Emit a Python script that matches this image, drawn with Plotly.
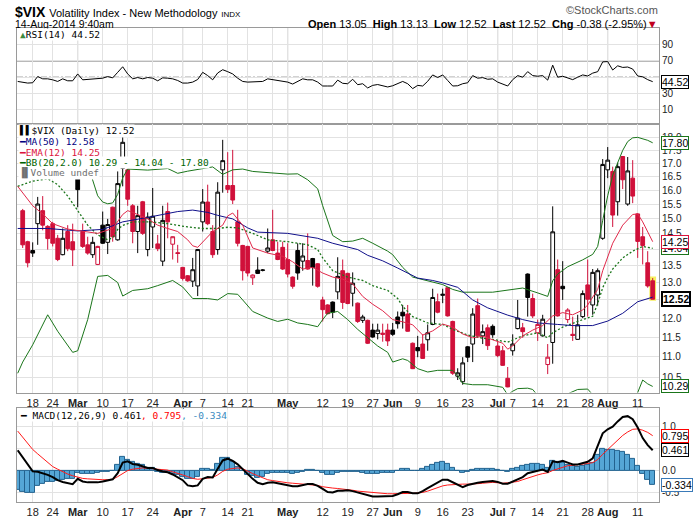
import math

import pandas as pd
import plotly.graph_objects as go
from plotly.subplots import make_subplots

# trading days on the chart (Feb 12 is only the left edge)
holidays = ["2014-02-17", "2014-04-18", "2014-05-26", "2014-07-04"]
dates = [d.strftime("%Y-%m-%d") for d in pd.bdate_range("2014-02-12", "2014-08-14")
         if d.strftime("%Y-%m-%d") not in holidays]
candle_dates = dates[1:]

# daily bars, Feb 13 .. Aug 14
opens = [15.28, 14.25, 13.97, 14.84, 15.28, 14.75, 14.84, 14.36, 13.84, 14.58,
         14.25, 16.42, 14.58, 14.15, 13.84, 13.54, 14.79, 14.23, 15.40, 14.31,
         16.81, 16.75, 15.45, 14.58, 15.59, 14.00, 14.73, 14.18, 13.64, 15.25,
         14.17, 13.90, 13.45, 13.20, 13.04, 12.90, 14.90, 15.58, 14.58, 14.00,
         16.75, 16.17, 16.17, 14.90, 14.13, 14.10, 13.14, 13.37, 13.36, 13.95,
         14.31, 13.89, 14.07, 13.69, 13.16, 13.97, 13.64, 13.66, 13.72, 13.56,
         12.50, 12.36, 12.44, 12.73, 13.35, 13.27, 12.69, 12.41, 11.94, 11.94,
         11.68, 11.59, 11.60, 11.68, 11.68, 12.03, 12.16, 12.11, 11.34, 11.23,
         11.32, 11.43, 11.83, 12.45, 12.63, 12.85, 11.91, 10.53, 10.40, 11.25,
         11.32, 12.34, 11.53, 11.74, 11.78, 11.27, 11.15, 10.48, 11.15, 11.72,
         11.74, 13.25, 12.54, 11.61, 11.53, 10.81, 11.36, 13.38, 12.89, 11.96,
         11.57, 11.44, 12.04, 12.93, 12.36, 12.64, 14.36, 16.75, 16.69, 15.59,
         17.26, 15.51, 16.44, 15.17, 14.41, 13.59, 13.05]
highs = [15.34, 14.28, 14.23, 15.76, 15.79, 14.79, 14.90, 14.47, 14.68, 14.79,
         14.84, 16.45, 14.84, 14.41, 14.41, 14.12, 15.25, 15.00, 15.42, 16.69,
         18.05, 16.78, 15.51, 15.45, 15.62, 15.22, 16.08, 14.47, 15.45, 15.56,
         14.42, 14.15, 13.46, 13.22, 13.74, 14.02, 16.04, 16.20, 14.79, 16.29,
         17.92, 17.43, 17.52, 15.31, 14.15, 14.12, 13.24, 13.76, 13.40, 14.68,
         15.31, 14.25, 14.25, 14.20, 13.18, 14.20, 14.20, 14.52, 13.74, 13.58,
         12.59, 12.38, 12.46, 13.76, 13.69, 13.29, 13.30, 12.43, 12.09, 11.96,
         11.85, 11.85, 11.85, 11.85, 11.87, 12.18, 12.36, 12.36, 11.36, 11.53,
         11.57, 11.83, 12.82, 12.68, 12.82, 12.86, 11.93, 10.72, 10.99, 11.27,
         12.27, 12.54, 11.83, 11.83, 11.83, 11.40, 11.27, 10.75, 11.57, 12.50,
         11.87, 13.27, 12.68, 11.96, 12.09, 11.32, 15.43, 13.69, 13.64, 12.27,
         12.04, 12.09, 12.77, 13.69, 13.40, 13.42, 17.16, 17.63, 16.87, 17.02,
         17.28, 17.24, 17.12, 15.19, 14.73, 13.95, 13.13]
lows = [14.05, 13.45, 13.77, 14.15, 14.62, 14.00, 14.10, 13.64, 13.82, 13.95,
        13.49, 15.40, 14.05, 13.84, 13.74, 13.52, 14.18, 13.86, 14.25, 14.28,
        16.14, 15.45, 14.20, 13.89, 14.47, 13.79, 14.05, 13.95, 13.49, 14.36,
        13.69, 13.59, 13.06, 13.02, 12.87, 12.61, 14.58, 14.79, 13.74, 13.84,
        15.91, 15.90, 15.51, 14.10, 13.06, 13.18, 12.93, 13.25, 13.33, 13.89,
        13.95, 13.67, 13.37, 13.15, 12.82, 13.08, 13.35, 13.38, 12.91, 12.85,
        11.91, 12.10, 12.00, 12.52, 12.25, 12.38, 12.32, 11.87, 11.87, 11.32,
        11.48, 11.44, 11.38, 11.27, 11.53, 11.72, 11.72, 11.64, 10.70, 10.99,
        10.95, 11.15, 11.81, 12.13, 12.41, 12.04, 10.56, 10.44, 10.33, 10.87,
        10.87, 11.48, 11.32, 11.17, 11.48, 10.99, 10.78, 10.27, 11.03, 11.70,
        11.48, 12.04, 12.00, 11.40, 11.51, 10.58, 10.83, 12.04, 12.50, 11.87,
        11.40, 11.43, 12.00, 12.04, 12.09, 12.34, 14.31, 16.44, 14.73, 15.11,
        16.04, 15.45, 15.54, 13.74, 13.54, 12.85, 12.52]
closes = [14.15, 13.59, 13.89, 15.51, 14.79, 14.35, 14.20, 13.69, 14.36, 14.03,
          13.99, 16.02, 14.10, 13.89, 14.23, 14.10, 14.20, 14.81, 14.41, 16.24,
          17.82, 15.68, 14.58, 15.11, 14.52, 15.06, 15.09, 14.03, 14.95, 14.90,
          14.41, 13.88, 13.12, 13.05, 13.38, 14.00, 15.58, 14.84, 13.84, 15.93,
          17.10, 16.03, 15.65, 14.20, 13.35, 13.28, 13.22, 13.27, 13.37, 14.05,
          13.97, 13.69, 13.40, 13.25, 12.89, 13.28, 13.80, 13.40, 13.45, 12.89,
          12.23, 12.12, 12.16, 13.18, 12.43, 12.40, 12.98, 11.91, 12.03, 11.34,
          11.50, 11.68, 11.57, 11.40, 11.57, 11.85, 12.06, 11.65, 10.71, 11.15,
          10.96, 11.61, 12.57, 12.16, 12.66, 12.06, 10.60, 10.61, 10.85, 10.99,
          12.11, 11.53, 11.64, 11.28, 11.56, 11.03, 10.79, 10.28, 11.32, 12.00,
          11.64, 12.57, 12.06, 11.83, 11.97, 10.99, 14.57, 12.06, 12.82, 12.22,
          11.54, 11.82, 12.68, 12.52, 13.30, 13.35, 16.95, 17.12, 15.13, 16.87,
          16.38, 16.71, 15.79, 14.26, 14.13, 12.90, 12.52]

# overlays, read at selected days ("MM-DD" of 2014)
ma50_days = ["02-12", "02-21", "03-03", "03-10", "03-12", "03-14", "03-21", "03-26", "03-31", "04-03",
             "04-08", "04-10", "04-15", "04-21", "04-23", "05-01", "05-09", "05-14", "05-21", "05-23",
             "05-29", "06-03", "06-05", "06-09", "06-12", "06-16", "06-19", "06-24", "06-27", "07-03",
             "07-09", "07-14", "07-18", "07-23", "07-29", "08-01", "08-06", "08-11", "08-14"]
ma50 = [14.68, 14.68, 14.60, 14.65, 14.77, 14.90, 15.05, 15.15, 15.25, 15.30,
        15.22, 15.12, 15.00, 14.70, 14.56, 14.52, 14.36, 14.20, 14.00, 13.82,
        13.65, 13.43, 13.28, 13.13, 13.06, 12.99, 12.86, 12.50, 12.28, 12.08,
        11.96, 11.87, 11.83, 11.80, 11.80, 11.92, 12.13, 12.45, 12.58]

ema12_days = ["02-12", "02-18", "02-20", "02-24", "02-27", "03-04", "03-07", "03-12", "03-14", "03-17",
              "03-18", "03-21", "03-25", "03-27", "03-31", "04-02", "04-03", "04-04", "04-07", "04-09",
              "04-11", "04-14", "04-15", "04-17", "04-22", "04-25", "04-30", "05-02", "05-06", "05-08",
              "05-12", "05-14", "05-16", "05-20", "05-22", "05-27", "05-29", "06-02", "06-04", "06-06",
              "06-10", "06-12", "06-16", "06-18", "06-20", "06-24", "06-26", "06-30", "07-02", "07-03",
              "07-07", "07-09", "07-11", "07-15", "07-17", "07-21", "07-23", "07-25", "07-28", "07-30",
              "07-31", "08-04", "08-05", "08-06", "08-08", "08-11", "08-12", "08-14"]
ema12 = [16.14, 15.45, 15.17, 14.84, 14.66, 14.58, 14.52, 14.68, 15.15, 15.28,
         15.22, 15.00, 14.79, 14.68, 14.58, 14.31, 14.12, 14.07, 14.25, 14.58,
         14.79, 15.10, 15.20, 14.79, 14.05, 13.89, 13.79, 13.62, 13.40, 13.45,
         13.28, 13.16, 13.10, 12.96, 12.60, 12.38, 12.20, 11.96, 11.90, 11.82,
         11.55, 11.66, 11.84, 11.76, 11.58, 11.48, 11.52, 11.42, 11.34, 11.19,
         11.27, 11.53, 11.68, 11.80, 12.06, 12.15, 12.09, 12.22, 12.36, 12.80,
         13.35, 14.20, 14.50, 14.79, 15.15, 15.17, 14.90, 14.25]

bb_up_days = ["03-05", "03-06", "03-07", "03-10", "03-11", "03-12", "03-13", "03-14", "03-17", "03-21",
              "03-27", "03-31", "04-02", "04-09", "04-11", "04-15", "04-17", "04-22", "04-28", "05-01",
              "05-05", "05-07", "05-09", "05-12", "05-14", "05-16", "05-20", "05-22", "05-27", "05-30",
              "06-02", "06-04", "06-06", "06-11", "06-16", "06-18", "06-20", "06-30", "07-03", "07-09",
              "07-14", "07-16", "07-17", "07-18", "07-22", "07-25", "07-29", "07-30", "07-31", "08-01",
              "08-04", "08-05", "08-06", "08-07", "08-08", "08-11", "08-13", "08-14"]
bb_up = [16.95, 16.35, 15.80, 15.58, 15.52, 15.55, 15.85, 16.45, 16.78, 16.74,
         16.80, 16.62, 16.70, 16.86, 16.58, 16.75, 16.78, 16.69, 16.63, 16.59,
         16.60, 16.38, 16.05, 15.45, 14.45, 14.25, 14.27, 14.36, 14.20, 13.95,
         13.84, 13.45, 13.16, 13.06, 12.94, 12.80, 12.72, 12.72, 12.77, 12.84,
         12.70, 12.60, 13.05, 13.25, 13.47, 13.68, 13.85, 14.10, 14.95, 15.80,
         16.55, 17.05, 17.50, 17.85, 18.00, 18.02, 17.90, 17.80]

bb_mid_days = ["02-12", "02-18", "02-21", "02-25", "02-27", "03-03", "03-05", "03-07", "03-11", "03-12",
               "03-13", "03-14", "03-18", "03-24", "03-27", "04-02", "04-07", "04-10", "04-14", "04-16",
               "04-22", "04-25", "05-01", "05-07", "05-09", "05-12", "05-14", "05-19", "05-22", "05-27",
               "05-30", "06-03", "06-04", "06-06", "06-11", "06-16", "06-18", "06-23", "06-26", "06-30",
               "07-03", "07-09", "07-14", "07-16", "07-17", "07-21", "07-23", "07-25", "07-29", "07-30",
               "07-31", "08-01", "08-04", "08-06", "08-08", "08-12", "08-14"]
bb_mid = [16.14, 16.33, 16.42, 16.20, 15.79, 15.30, 14.79, 14.47, 14.31, 14.38,
          14.65, 14.78, 14.90, 14.90, 14.84, 14.73, 14.68, 14.68, 14.72, 14.70,
          14.52, 14.31, 14.25, 14.15, 14.00, 13.74, 13.35, 13.16, 13.06, 12.91,
          12.77, 12.54, 12.32, 12.04, 11.87, 11.83, 11.70, 11.55, 11.47, 11.44,
          11.37, 11.53, 11.61, 11.48, 11.61, 11.76, 11.87, 11.96, 12.05, 12.40,
          12.85, 13.15, 13.40, 13.74, 13.95, 14.10, 14.04]

bb_low_days = ["02-12", "02-13", "02-18", "02-21", "02-25", "02-28", "03-03", "03-05", "03-07", "03-11",
               "03-13", "03-14", "03-18", "03-21", "03-25", "03-28", "04-01", "04-03", "04-08", "04-10",
               "04-14", "04-16", "04-17", "04-22", "04-25", "04-29", "05-01", "05-05", "05-07", "05-09",
               "05-12", "05-13", "05-15", "05-19", "05-21", "05-23", "05-28", "05-30", "06-02", "06-04",
               "06-05", "06-09", "06-11", "06-13", "06-18", "06-19", "06-20", "06-24", "06-27", "07-02",
               "07-03", "07-07", "07-08", "07-10", "07-11", "07-14", "07-16", "07-18", "07-22", "07-24",
               "07-28", "07-29", "07-31", "08-05", "08-07", "08-08", "08-11", "08-12", "08-13", "08-14"]
bb_low = [10.60, 10.87, 11.30, 12.09, 11.65, 11.11, 11.15, 11.96, 13.18, 13.21,
          13.00, 12.61, 12.77, 12.82, 12.91, 13.06, 12.87, 12.54, 12.54, 12.50,
          12.68, 12.66, 12.50, 12.18, 12.00, 11.91, 11.97, 11.87, 11.83, 11.77,
          11.96, 12.13, 12.18, 11.96, 11.70, 11.48, 11.27, 11.11, 10.87, 10.95,
          10.91, 10.71, 10.63, 10.67, 10.67, 10.55, 10.36, 10.33, 10.33, 10.27,
          10.10, 10.18, 10.24, 10.25, 10.22, 10.08, 9.90, 10.05, 10.12, 10.22,
          10.23, 10.10, 9.60, 9.20, 9.50, 9.95, 10.15, 10.44, 10.35, 10.29]

# lower panels, one value per day from Feb 12
rsi = [44.8, 44.0, 42.8, 43.2, 50.8, 48.0, 48.0, 46.8, 44.8, 48.0,
       45.6, 45.6, 54.0, 46.8, 47.2, 47.2, 47.6, 48.8, 50.8, 49.2,
       56.0, 62.8, 54.0, 48.0, 49.6, 48.0, 49.6, 48.8, 45.6, 49.2,
       48.8, 48.0, 46.0, 42.8, 42.8, 44.0, 47.2, 56.0, 52.0, 46.8,
       55.2, 59.2, 56.8, 54.0, 48.8, 44.8, 44.0, 44.0, 44.0, 44.8,
       48.0, 47.2, 46.0, 44.8, 44.0, 41.6, 44.8, 48.0, 46.8, 46.8,
       44.0, 39.2, 39.2, 39.2, 46.4, 42.5, 42.0, 47.5, 40.8, 42.0,
       36.8, 40.0, 41.0, 39.2, 38.0, 39.5, 42.5, 44.8, 42.0, 36.0,
       40.0, 39.2, 45.0, 52.8, 49.6, 52.8, 46.0, 39.2, 39.5, 42.0,
       43.2, 52.0, 48.8, 49.5, 47.5, 48.0, 44.0, 42.0, 39.2, 47.0,
       52.0, 50.0, 56.8, 52.0, 51.2, 52.0, 46.4, 64.8, 50.0, 51.2,
       49.0, 47.0, 50.0, 52.8, 51.5, 55.0, 56.8, 68.8, 69.2, 58.8,
       64.0, 62.0, 62.5, 60.0, 51.5, 50.5, 47.0, 44.52]
macd = [0.46, 0.30, 0.13, -0.02, -0.03, -0.06, -0.10, -0.15, -0.22, -0.26,
        -0.28, -0.31, -0.19, -0.25, -0.27, -0.27, -0.27, -0.25, -0.22, -0.20,
        -0.06, 0.18, 0.21, 0.15, 0.13, 0.10, 0.06, 0.06, 0.01, -0.02,
        -0.04, -0.09, -0.15, -0.22, -0.34, -0.36, -0.34, -0.19, -0.15, -0.16,
        0.04, 0.23, 0.27, 0.22, 0.14, 0.03, -0.10, -0.19, -0.28, -0.31,
        -0.28, -0.27, -0.29, -0.31, -0.34, -0.36, -0.36, -0.33, -0.31, -0.31,
        -0.35, -0.42, -0.49, -0.50, -0.46, -0.46, -0.45, -0.47, -0.50, -0.54,
        -0.57, -0.59, -0.59, -0.59, -0.58, -0.58, -0.54, -0.49, -0.49, -0.52,
        -0.52, -0.47, -0.40, -0.33, -0.26, -0.21, -0.21, -0.27, -0.32, -0.38,
        -0.33, -0.30, -0.28, -0.26, -0.25, -0.24, -0.26, -0.30, -0.30, -0.25,
        -0.20, -0.15, -0.06, -0.03, 0.00, 0.02, -0.03, 0.21, 0.19, 0.22,
        0.18, 0.14, 0.14, 0.17, 0.20, 0.28, 0.55, 0.85, 0.94, 1.00,
        1.12, 1.22, 1.24, 1.17, 0.98, 0.74, 0.58, 0.461]
signal = [0.90, 0.76, 0.62, 0.48, 0.38, 0.28, 0.17, 0.09, 0.03, -0.03,
          -0.08, -0.12, -0.15, -0.18, -0.19, -0.20, -0.21, -0.21, -0.21, -0.20,
          -0.14, -0.06, 0.00, 0.03, 0.05, 0.06, 0.05, 0.04, 0.03, 0.03,
          0.01, -0.03, -0.06, -0.10, -0.14, -0.18, -0.20, -0.19, -0.18, -0.16,
          -0.10, -0.02, 0.03, 0.05, 0.06, 0.04, -0.02, -0.07, -0.12, -0.17,
          -0.21, -0.23, -0.25, -0.27, -0.28, -0.29, -0.30, -0.31, -0.32, -0.33,
          -0.34, -0.37, -0.39, -0.40, -0.41, -0.42, -0.44, -0.45, -0.47, -0.48,
          -0.50, -0.51, -0.52, -0.53, -0.53, -0.53, -0.53, -0.52, -0.52, -0.52,
          -0.51, -0.50, -0.47, -0.43, -0.39, -0.35, -0.33, -0.32, -0.31, -0.31,
          -0.31, -0.31, -0.30, -0.29, -0.28, -0.27, -0.28, -0.29, -0.28, -0.27,
          -0.25, -0.21, -0.17, -0.13, -0.10, -0.07, -0.05, 0.00, 0.04, 0.08,
          0.11, 0.12, 0.13, 0.14, 0.16, 0.18, 0.25, 0.37, 0.48, 0.58,
          0.69, 0.80, 0.88, 0.94, 0.95, 0.92, 0.87, 0.795]
hist = [-0.44, -0.48, -0.52, -0.52, -0.36, -0.31, -0.27, -0.25, -0.24, -0.22,
        -0.20, -0.18, -0.06, -0.08, -0.08, -0.07, -0.06, -0.04, -0.02, 0.00,
        0.13, 0.30, 0.25, 0.19, 0.16, 0.12, 0.07, 0.05, -0.02, -0.05,
        -0.05, -0.07, -0.10, -0.14, -0.20, -0.19, -0.15, 0.03, 0.04, 0.01,
        0.16, 0.28, 0.28, 0.20, 0.09, -0.01, -0.09, -0.13, -0.17, -0.15,
        -0.08, -0.05, -0.05, -0.05, -0.06, -0.07, -0.06, -0.02, 0.01, 0.02,
        -0.01, -0.05, -0.10, -0.10, -0.05, -0.04, -0.02, -0.02, -0.03, -0.06,
        -0.07, -0.08, -0.07, -0.06, -0.05, -0.05, -0.01, 0.04, 0.04, 0.00,
        -0.01, 0.03, 0.08, 0.14, 0.18, 0.19, 0.16, 0.05, -0.01, -0.06,
        -0.02, 0.01, 0.03, 0.04, 0.04, 0.04, 0.02, -0.01, -0.02, 0.03,
        0.06, 0.10, 0.14, 0.15, 0.15, 0.14, 0.06, 0.21, 0.20, 0.18,
        0.12, 0.10, 0.09, 0.10, 0.12, 0.17, 0.35, 0.50, 0.48, 0.46,
        0.44, 0.42, 0.36, 0.26, 0.10, -0.08, -0.22, -0.334]

# date axis
tick_days = ["02-18", "02-24", "03-03", "03-10", "03-17", "03-24", "04-01", "04-07", "04-14", "04-21",
             "04-28", "05-01", "05-12", "05-19", "05-27", "06-02", "06-09", "06-16", "06-23", "07-01",
             "07-07", "07-14", "07-21", "07-28", "08-01", "08-11"]
tick_text = ["18", "24", "Mar", "10", "17", "24", "Apr", "7", "14", "21",
             "", "May", "12", "19", "27", "Jun", "9", "16", "23", "Jul",
             "7", "14", "21", "28", "Aug", "11"]
month_days = ["03-03", "04-01", "05-01", "06-02", "07-01", "08-01"]

# value axes (labels sitting under the last-value boxes are left blank, as in the original)
rsi_ticks = [10, 30, 50, 70, 90]
rsi_tick_text = ["10", "30", "", "70", "90"]
price_ticks = [10.5, 11.0, 11.5, 12.0, 12.5, 13.0, 13.5, 14.0, 14.5, 15.0, 15.5, 16.0, 16.5, 17.0, 17.5, 18.0]
price_tick_text = ["10.5", "11.0", "11.5", "12.0", "", "13.0", "13.5", "", "14.5", "15.0",
                   "15.5", "16.0", "16.5", "17.0", "17.5", "18.0"]
macd_ticks = [-0.5, 0.0, 0.5, 1.0]
macd_tick_text = ["-0.5", "0.0", "", "1.0"]


def on(days):
    return ["2014-" + d for d in days]


W, H = 700, 530
ML, MR, MT, MB = 17, 41, 28, 17
GRID = "#e2e2e2"
FRAME = "#9a9a9a"
SANS = "Liberation Sans, Arial, sans-serif"
MONO = "DejaVu Sans Mono, monospace"
RED = "#d0103a"
GREEN = "#1a751a"


def fx(px):
    return (px - ML) / (W - ML - MR)


def fy(py):
    return (H - MB - py) / (H - MT - MB)


fig = make_subplots(rows=3, cols=1, shared_xaxes=True, vertical_spacing=0)

# RSI
fig.add_trace(go.Scatter(x=dates, y=rsi, mode="lines", line=dict(color="black", width=1),
                         hoverinfo="skip"), row=1, col=1)

# highlight behind the latest bar
fig.add_trace(go.Candlestick(x=[candle_dates[-1]], open=[lows[-1]], high=[highs[-1]],
                             low=[lows[-1]], close=[highs[-1]], whiskerwidth=0,
                             increasing=dict(line=dict(color="#f7f060", width=3), fillcolor="#f7f060"),
                             decreasing=dict(line=dict(color="#f7f060", width=3), fillcolor="#f7f060"),
                             hoverinfo="skip"), row=2, col=1)

# black bars close up on the day, red bars close down; hollow when close > open
up_day = [k > 0 and closes[k] >= closes[k - 1] for k in range(len(closes))]
for flag, color in ((True, "black"), (False, RED)):
    idx = [k for k in range(len(closes)) if up_day[k] == flag]
    fig.add_trace(go.Candlestick(
        x=[candle_dates[k] for k in idx],
        open=[opens[k] for k in idx], high=[highs[k] for k in idx],
        low=[lows[k] for k in idx], close=[closes[k] for k in idx],
        whiskerwidth=0,
        increasing=dict(line=dict(color=color, width=1), fillcolor="white"),
        decreasing=dict(line=dict(color=color, width=1), fillcolor=color),
        hoverinfo="skip"), row=2, col=1)

overlays = [
    (bb_up_days, bb_up, dict(color=GREEN, width=1)),
    (bb_low_days, bb_low, dict(color=GREEN, width=1)),
    (bb_mid_days, bb_mid, dict(color=GREEN, width=1.3, dash="2px,2px")),
    (ma50_days, ma50, dict(color="#10108a", width=1)),
    (ema12_days, ema12, dict(color="#e0284a", width=1)),
]
for days, vals, line in overlays:
    fig.add_trace(go.Scatter(x=on(days), y=vals, mode="lines", line=line, hoverinfo="skip"),
                  row=2, col=1)

# MACD
fig.add_trace(go.Bar(x=dates, y=hist, marker=dict(color="#55a6d6", line=dict(color="#23628f", width=1)),
                     hoverinfo="skip"), row=3, col=1)
fig.add_trace(go.Scatter(x=dates, y=signal, mode="lines", line=dict(color="#ff1a1a", width=1),
                         hoverinfo="skip"), row=3, col=1)
fig.add_trace(go.Scatter(x=dates, y=macd, mode="lines", line=dict(color="black", width=2),
                         hoverinfo="skip"), row=3, col=1)

# axes
tickvals = on(tick_days)
ticktext = ["<b>%s</b>" % t if t.isalpha() else t for t in tick_text]
for name in ("xaxis", "xaxis2", "xaxis3"):
    fig.layout[name].update(
        type="category", categoryorder="array", categoryarray=dates,
        range=[-0.14, 128.26], tickmode="array", tickvals=tickvals, ticktext=ticktext,
        showgrid=True, gridcolor=GRID, gridwidth=1, showline=True, mirror=True,
        linecolor=FRAME, linewidth=1, ticks="", rangeslider=dict(visible=False),
        tickfont=dict(family=SANS, size=11, color="#222"))
fig.layout.xaxis.showticklabels = False
fig.layout.xaxis2.showticklabels = True
fig.layout.xaxis3.showticklabels = True

yaxis_common = dict(side="right", showgrid=True, gridcolor=GRID, zeroline=False, showline=True,
                    mirror=True, linecolor=FRAME, linewidth=1, ticks="", tickmode="array",
                    tickfont=dict(family=SANS, size=10, color="#222"))
fig.update_layout(
    yaxis=dict(domain=[fy(126.7), 1], range=[-8, 110.4], tickvals=rsi_ticks,
               ticktext=rsi_tick_text, **yaxis_common),
    yaxis2=dict(domain=[fy(401), fy(126.7)], type="log",
                range=[math.log10(10.15), math.log10(18.55)], tickvals=price_ticks,
                ticktext=price_tick_text, **yaxis_common),
    yaxis3=dict(domain=[0, fy(416.7)], range=[-0.718, 1.429], tickvals=macd_ticks,
                ticktext=macd_tick_text, **yaxis_common),
)

# RSI guide lines
fig.add_hline(y=70, row=1, col=1, line=dict(color="#555", width=1), layer="below")
fig.add_hline(y=30, row=1, col=1, line=dict(color="#555", width=1), layer="below")
fig.add_hline(y=50, row=1, col=1, line=dict(color="#666", width=1, dash="6px,2px,2px,2px"), layer="below")

# month separators
for r in (1, 2, 3):
    for d in on(month_days):
        fig.add_vline(x=d, row=r, col=1, line=dict(color="#b8b8b8", width=1), layer="below")

ann = []


def text(px, py, s, size=11, family=SANS, color="#000", anchor="left", bg=None):
    ann.append(dict(x=fx(px), y=fy(py), xref="paper", yref="paper", text=s, showarrow=False,
                    xanchor=anchor, yanchor="middle", font=dict(family=family, size=size, color=color),
                    bgcolor=bg, borderpad=0))


# header
text(14, 11.5, "<b>$VIX</b> <span style='font-size:11px'>Volatility Index - New Methodology</span>"
     " <span style='font-size:8px'>INDX</span>", size=14)
text(14, 24, "14-Aug-2014 9:40am", size=10.5)
text(659, 10, "\u00a9StockCharts.com", size=11, color="#555", anchor="right")
chg = closes[-1] - closes[-2]
text(659, 23.5, "<b>Open</b> %.2f\u00a0 <b>High</b> %.2f\u00a0 <b>Low</b> %.2f\u00a0 <b>Last</b> %.2f\u00a0"
     " <b>Chg</b> %.2f (%.2f%%)<span style='color:#c00020'>\u25bc</span>"
     % (opens[-1], highs[-1], lows[-1], closes[-1], chg, chg / closes[-2] * 100), size=11, anchor="right")

# panel legends
text(19, 35, "<span style='color:#3d8a3d'>\u25b2</span>RSI(14) %.2f" % rsi[-1], size=9.5, family=MONO, bg="white")
legend_rows = [
    (133.3, "#000", "\u258c\u258c", "$VIX (Daily) %.2f" % closes[-1]),
    (144.3, "#000080", "\u2501", "MA(50) %.2f" % ma50[-1]),
    (155.0, "#dc143c", "\u2501", "EMA(12) %.2f" % ema12[-1]),
    (166.0, "#006400", "\u2501", "BB(20,2.0) %.2f - %.2f - %.2f" % (bb_low[-1], bb_mid[-1], bb_up[-1])),
    (176.7, "#707070", "\u2590\u258c", "Volume undef"),
]
for py, col, icon, label in legend_rows:
    text(18, py, "%s%s" % (icon, label), size=9.5, family=MONO, color=col, bg="white")
text(19, 424.3, "\u2501 MACD(12,26,9) %.3f<span style='color:#ff0000'>, %.3f</span>"
     "<span style='color:#3a8ac0'>, %.3f</span>" % (macd[-1], signal[-1], hist[-1]),
     size=9.5, family=MONO, bg="white")


def value_box(v, yref, y, color, fmt="%.2f", bold=False, width=1):
    s = fmt % v
    ann.append(dict(x=fx(660.5), xref="paper", xanchor="left", y=y, yref=yref, yanchor="middle",
                    text="<b>%s</b>" % s if bold else s, showarrow=False, bgcolor="white",
                    bordercolor=color, borderwidth=width, borderpad=0,
                    font=dict(family=SANS, size=10.5, color="#000")))


value_box(rsi[-1], "y", rsi[-1], "#000")
value_box(bb_up[-1], "y2", math.log10(bb_up[-1]), GREEN)
value_box(bb_mid[-1], "y2", math.log10(bb_mid[-1]), GREEN)
value_box(ema12[-1], "y2", math.log10(ema12[-1]), "#dc143c")
value_box(closes[-1], "y2", math.log10(closes[-1]), "#000", bold=True, width=2)
value_box(bb_low[-1], "y2", math.log10(bb_low[-1]), GREEN)
value_box(signal[-1], "y3", signal[-1], "#ff0000", fmt="%.3f")
value_box(macd[-1], "y3", macd[-1], "#000", fmt="%.3f")
value_box(hist[-1], "y3", hist[-1], "#3a7ab8", fmt="%.3f")

fig.update_layout(
    width=W, height=H, margin=dict(l=ML, r=MR, t=MT, b=MB),
    paper_bgcolor="white", plot_bgcolor="white", showlegend=False,
    bargap=0, boxgap=0.25, boxgroupgap=0, annotations=ann,
)

fig.write_html("out.html", config={"displayModeBar": False},
               post_script="document.body.style.margin='0';")
